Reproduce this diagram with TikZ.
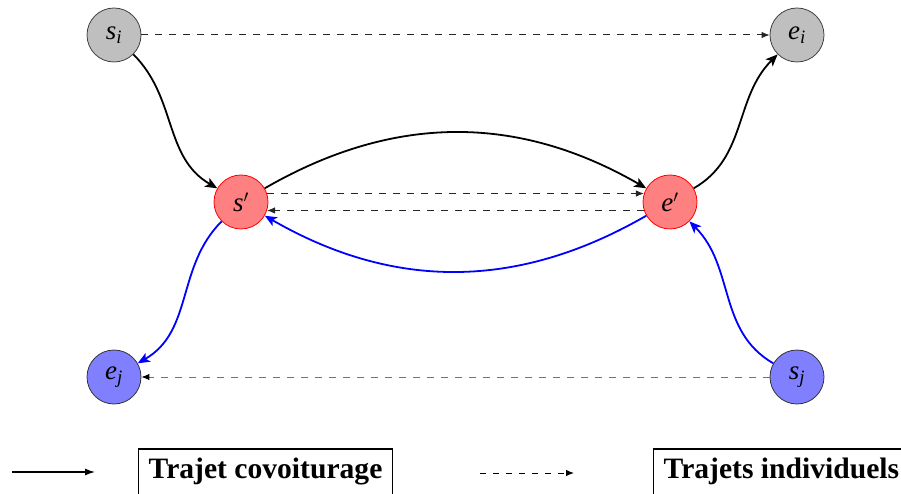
\documentclass[tikz,border=0pt]{standalone}
\usepackage{fontspec}
\setmainfont{Liberation Serif}
\usetikzlibrary{arrows.meta}
\begin{document}
\begin{tikzpicture}[x=1pt,y=1pt,
  place/.style={circle, minimum size=54pt, inner sep=0pt, line width=0.8pt, font=\fontsize{27}{30}\selectfont},
  grayplace/.style={place, fill=gray!50, draw=black!75},
  redplace/.style={place, fill=red!50, draw=red},
  blueplace/.style={place, fill=blue!50, draw=black!80},
  carpool/.style={line width=1.8pt, -{Stealth[length=12pt,width=10pt,inset=3pt]}},
  bluepool/.style={carpool, draw=blue},
  solo/.style={line width=1pt, dash pattern=on 7pt off 7pt, -{Latex[length=8pt,width=6.5pt]}},
  legbox/.style={draw, line width=1.4pt, font=\fontsize{29.6}{32}\selectfont\bfseries,
    inner xsep=10pt, inner ysep=0pt, text height=29pt, text depth=30pt, anchor=base west}]
\useasboundingbox (0,0) rectangle (901,493);

\node[grayplace] (si) at (114,458) {$\mathit{s}_{\mathit{i}}$};
\node[grayplace] (ei) at (797,458) {$\mathit{e}_{\mathit{i}}$};
\node[redplace] (sp) at (241,291) {$\mathit{s}'$};
\node[redplace] (ep) at (670,291) {$\mathit{e}'$};
\node[blueplace] (ej) at (114,116) {$\mathit{e}_{\mathit{j}}$};
\node[blueplace] (sj) at (797,116) {$\mathit{s}_{\mathit{j}}$};

% individual trips
\draw[solo, draw=black!85] (si) -- (ei);
\draw[solo, draw=black!85] (sp.18) -- (ep.162);
\draw[solo, draw=black!85] (ep.-162) -- (sp.-18);
\draw[solo, draw=black!55, -{Latex[length=8pt,width=6.5pt,black]}] (sj) -- (ej);

% carpool trips
\draw[carpool] (si) to[out=-45, in=150] (sp);
\draw[carpool] (sp) to[out=30, in=150] (ep);
\draw[carpool] (ep) to[out=30, in=-135] (ei);
\draw[bluepool] (ep) to[out=210, in=-30] (sp);
\draw[bluepool] (sp) to[out=-135, in=30] (ej);
\draw[bluepool] (sj) to[out=150, in=-45] (ep);

% legend
\coordinate (la) at (12,21);
\coordinate (lb) at (95,21);
\draw[line width=1.3pt, -{Latex[length=10pt,width=7pt]}] (la) -- (lb);
\node[legbox] (lc) at (138,15) {Trajet covoiturage};
\coordinate (lc1) at (480,20);
\coordinate (lc2) at (574,20);
\draw[line width=1pt, dash pattern=on 6pt off 7pt, -{Latex[length=8pt,width=6.5pt]}] (lc1) -- (lc2);
\node[legbox] (li) at (653,15) {Trajets individuels};
\end{tikzpicture}
\end{document}
